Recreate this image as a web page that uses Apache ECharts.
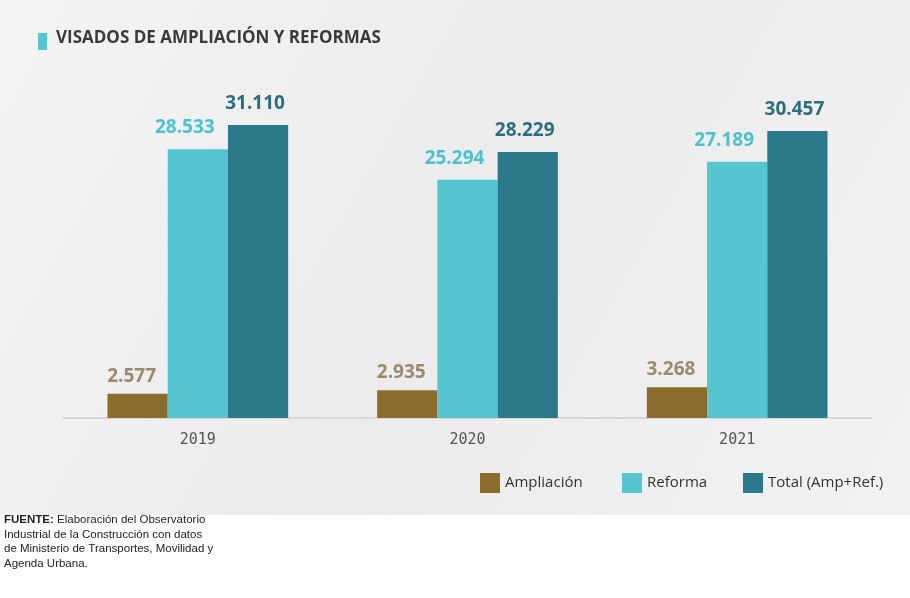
<!DOCTYPE html>
<html>
<head>
<meta charset="utf-8">
<script src="https://cdn.jsdelivr.net/npm/echarts@6/dist/echarts.min.js"></script>
<style>
  html, body { margin: 0; padding: 0; background: #fff; }
  #chart { width: 910px; height: 598px; }
</style>
</head>
<body>
<div id="chart"></div>
<script>
var years = ["2019", "2020", "2021"];
var ampliacion = [2577, 2935, 3268];
var reforma = [28533, 25294, 27189];
var total = [31110, 28229, 30457];
var seriesNames = ["Ampliación", "Reforma", "Total (Amp+Ref.)"];

var colAmp = "#8c6c2c";
var colRef = "#55c5d0";
var colTot = "#2a7a89";

// 31110 -> "31.110"
function fmt(v) {
  return String(v).replace(/\B(?=(\d{3})+(?!\d))/g, ".");
}

function barSeries(name, data, color, labelColor, dx, dist) {
  return {
    name: name,
    type: "bar",
    data: data,
    barGap: 0,
    barCategoryGap: "33%",
    itemStyle: { color: color },
    label: {
      show: true,
      position: "top",
      distance: dist,
      offset: [dx, 0],
      color: labelColor,
      fontFamily: "Open Sans",
      fontWeight: "bold",
      fontSize: 19,
      formatter: function (p) { return fmt(p.value); }
    }
  };
}

// one legend per entry so each can sit where it does in the original
function legendAt(name, left) {
  return {
    left: left, top: 473, padding: 0,
    itemWidth: 20, itemHeight: 20,
    icon: "rect",
    textStyle: { color: "#333", fontFamily: "Open Sans", fontSize: 15 },
    data: [name]
  };
}

var myChart = echarts.init(document.getElementById("chart"));
myChart.setOption({
  animation: false,
  backgroundColor: "#ffffff",
  graphic: [
    {
      type: "rect", z: -10, silent: true,
      shape: { x: 0, y: 0, width: 910, height: 515 },
      style: {
        fill: new echarts.graphic.LinearGradient(0, 0, 1, 1, [
          { offset: 0, color: "#f4f4f4" },
          { offset: 0.5, color: "#ececec" },
          { offset: 1, color: "#f2f2f2" }
        ])
      }
    },
    {
      type: "rect",
      shape: { x: 38, y: 33, width: 9, height: 17 },
      style: { fill: "#55c5d0" }
    },
    {
      type: "text", left: 56, top: 30,
      style: {
        text: "VISADOS DE AMPLIACIÓN Y REFORMAS",
        fontFamily: "Open Sans", fontWeight: "bold", fontSize: 17,
        fill: "#3a3a3a"
      }
    },
    {
      type: "text", left: 4, top: 513,
      style: {
        text: "{b|FUENTE:} Elaboración del Observatorio\nIndustrial de la Construcción con datos\nde Ministerio de Transportes, Movilidad y\nAgenda Urbana.",
        fontFamily: "Liberation Sans Narrow, Liberation Sans", fontSize: 11.5,
        lineHeight: 14.5, fill: "#222",
        rich: {
          b: { fontWeight: "bold", fontSize: 11.5, fill: "#222", fontFamily: "Liberation Sans Narrow, Liberation Sans" }
        }
      }
    }
  ],
  legend: [
    legendAt(seriesNames[0], 480),
    legendAt(seriesNames[1], 622),
    legendAt(seriesNames[2], 743)
  ],
  grid: { left: 63, right: 38, top: 60, bottom: 180 },
  xAxis: {
    type: "category",
    data: years,
    axisLine: { lineStyle: { color: "#cfcfcf", width: 1.5 } },
    axisTick: { show: false },
    axisLabel: {
      color: "#555", fontFamily: "DejaVu Sans Mono", fontSize: 15, margin: 15
    }
  },
  yAxis: {
    type: "value", min: 0, max: 38000,
    show: false,
    splitLine: { show: false }
  },
  series: [
    barSeries(seriesNames[0], ampliacion, colAmp, "#9a8b70", -6, 8),
    barSeries(seriesNames[1], reforma, colRef, "#4cc2cd", -13, 12),
    barSeries(seriesNames[2], total, colTot, "#2b6e7e", -3, 12)
  ]
});
</script>
</body>
</html>
